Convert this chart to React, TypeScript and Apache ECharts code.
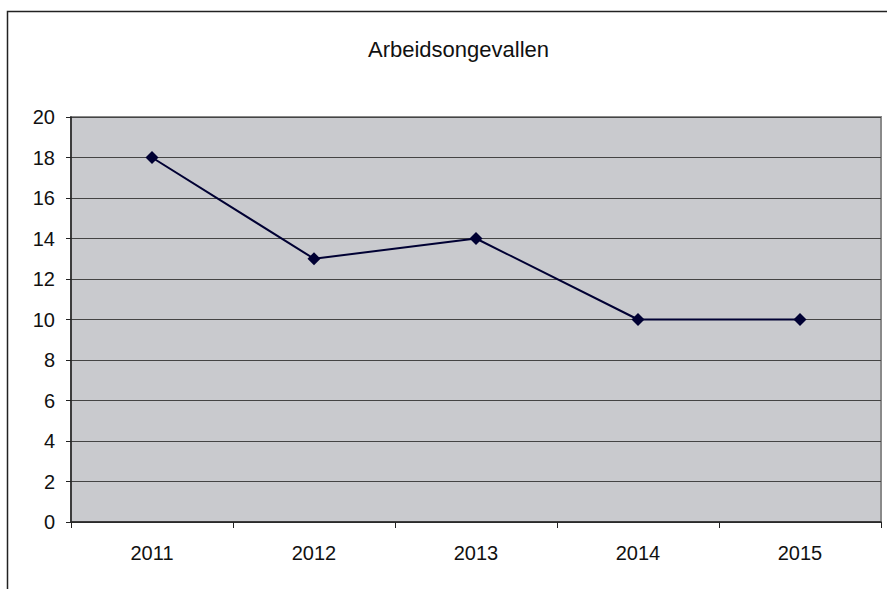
import React, { useEffect, useRef } from "react";
import * as echarts from "echarts";

const categories = ["2011", "2012", "2013", "2014", "2015"];
const values = [18, 13, 14, 10, 10];
const title = "Arbeidsongevallen";

export default function App() {
  const ref = useRef<HTMLDivElement>(null);
  useEffect(() => {
    const chart = echarts.init(ref.current!, undefined, { renderer: "svg" });
    chart.setOption({
      animation: false,
      backgroundColor: "#ffffff",
      title: {
        text: title,
        left: 363,
        top: 33,
        textStyle: { fontFamily: "Liberation Sans, Arial", fontSize: 22, fontWeight: "normal", color: "#111" },
      },
      graphic: [
        {
          type: "rect",
          shape: { x: 7.5, y: 11.5, width: 900, height: 600 },
          style: { fill: "none", stroke: "#222", lineWidth: 1.5 },
          z: 100,
        },
      ],
      grid: {
        left: 71,
        top: 117,
        width: 810,
        height: 405,
        show: true,
        backgroundColor: "#C9CACE",
        borderColor: "#8a8a8a",
        borderWidth: 2,
      },
      xAxis: {
        type: "category",
        data: categories,
        boundaryGap: true,
        axisLine: { lineStyle: { color: "#222", width: 1.5 } },
        axisTick: { show: true, alignWithLabel: false, length: 6, lineStyle: { color: "#222" } },
        axisLabel: { fontFamily: "Liberation Sans, Arial", fontSize: 20, color: "#111", margin: 21 },
      },
      yAxis: {
        type: "value",
        min: 0,
        max: 20,
        interval: 2,
        axisLine: { show: true, lineStyle: { color: "#222", width: 1.5 } },
        axisTick: { show: true, length: 5, lineStyle: { color: "#222" } },
        axisLabel: { fontFamily: "Liberation Sans, Arial", fontSize: 20, color: "#111", margin: 16 },
        splitLine: { lineStyle: { color: "#444", width: 1 } },
      },
      series: [
        {
          type: "line",
          data: values,
          symbol: "diamond",
          symbolSize: 13,
          lineStyle: { color: "#000033", width: 2 },
          itemStyle: { color: "#000033" },
        },
      ],
    });
    return () => chart.dispose();
  }, []);
  return (
    <div
      ref={ref}
      style={{ position: "fixed", left: 0, top: 0, width: 887, height: 589 }}
    />
  );
}
